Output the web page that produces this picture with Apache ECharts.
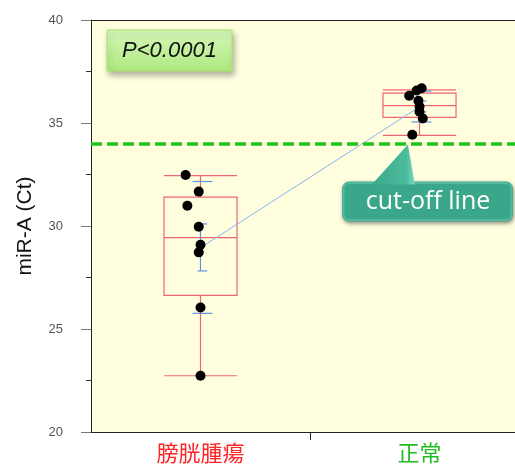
<!DOCTYPE html>
<html>
<head>
<meta charset="utf-8">
<script src="https://cdn.jsdelivr.net/npm/echarts@6/dist/echarts.min.js"></script>
<style>
  html, body { margin: 0; padding: 0; background: #ffffff; }
  #chart { width: 515px; height: 464px; }
</style>
</head>
<body>
<div id="chart"></div>
<script>
// Group names on the x axis
const categories = ['膀胱腫瘍', '正常'];

// Individual Ct values per group
const tumorCt  = [32.48, 31.67, 30.98, 29.96, 29.09, 28.72, 26.04, 22.73];
const normalCt = [36.69, 36.58, 36.32, 36.08, 35.80, 35.55, 35.22, 34.43];

// Horizontal spread of the dots inside each group (category units)
const tumorJitter  = [-0.068, -0.008, -0.060, -0.008, 0.000, -0.008, 0.000, 0.000];
const normalJitter = [0.010, -0.013, -0.047, -0.005, 0.000, 0.000, 0.015, -0.033];

// Box statistics per group: [lower whisker, Q1, median, Q3, upper whisker]
const boxStats = [
  [22.73, 26.63, 29.44, 31.40, 32.45],
  [34.40, 35.27, 35.84, 36.45, 36.61]
];

// Mean, SD and SE per group
const meanCt = [28.96, 35.80];
const sdCt   = [3.20, 0.75];
const seCt   = [1.14, 0.265];

// Diagnostic threshold
const cutoff = 34;

// Y axis range
const yMin = 20, yMax = 40, yStep = 5;

// Group slots are one unit wide; the plot runs past the right edge of the canvas,
// so the visible part of the x axis stops short of the second slot's end.
const xMin = -0.5, xMax = 1.436;

const chart = echarts.init(document.getElementById('chart'), null, { renderer: 'canvas' });

const RED = '#ef6474';
const BLUE = '#5b93e0';

const scatterData = [];
tumorCt.forEach((v, i) => scatterData.push([0 + tumorJitter[i], v]));
normalCt.forEach((v, i) => scatterData.push([1 + normalJitter[i], v]));

const boxData = boxStats.map((s, i) => [i].concat(s));
const errData = meanCt.map((m, i) => [i + 0.009, m, sdCt[i], seCt[i]]);
const meanLine = meanCt.map((m, i) => [i + 0.002, m]);

function renderBox(params, api) {
  const x = api.value(0);
  const lo = api.coord([x, api.value(1)]);
  const q1 = api.coord([x, api.value(2)]);
  const md = api.coord([x, api.value(3)]);
  const q3 = api.coord([x, api.value(4)]);
  const hi = api.coord([x, api.value(5)]);
  const half = api.size([0.1667, 0])[0];
  const cx = lo[0];
  const style = { stroke: RED, lineWidth: 1.2, fill: null };
  const ln = (x1, y1, x2, y2) => ({ type: 'line', shape: { x1, y1, x2, y2 }, style });
  return {
    type: 'group',
    children: [
      { type: 'rect', shape: { x: cx - half, y: q3[1], width: half * 2, height: q1[1] - q3[1] }, style },
      ln(cx - half, md[1], cx + half, md[1]),
      ln(cx, q3[1], cx, hi[1]),
      ln(cx, q1[1], cx, lo[1]),
      ln(cx - half, hi[1], cx + half, hi[1]),
      ln(cx - half, lo[1], cx + half, lo[1])
    ]
  };
}

function renderErr(params, api) {
  const x = api.value(0);
  const m = api.value(1), sd = api.value(2), se = api.value(3);
  const sdHi = api.coord([x, m + sd]), sdLo = api.coord([x, m - sd]);
  const seHi = api.coord([x, m + se]), seLo = api.coord([x, m - se]);
  const cx = sdHi[0];
  const wSd = api.size([0.045, 0])[0];
  const wSe = api.size([0.022, 0])[0];
  const style = { stroke: BLUE, lineWidth: 1.2 };
  const ln = (x1, y1, x2, y2) => ({ type: 'line', shape: { x1, y1, x2, y2 }, style });
  return {
    type: 'group',
    children: [
      ln(cx - 2, seHi[1], cx - 2, seLo[1]),
      ln(cx - wSe, seHi[1], cx + wSe, seHi[1]),
      ln(cx - wSe, seLo[1], cx + wSe, seLo[1]),
      ln(cx - wSd, sdHi[1], cx + wSd, sdHi[1]),
      ln(cx - wSd, sdLo[1], cx + wSd, sdLo[1])
    ]
  };
}

const option = {
  animation: false,
  backgroundColor: '#ffffff',
  grid: {
    left: 91, top: 20, right: 0, bottom: 31,
    show: true, backgroundColor: '#ffffe0', borderWidth: 0
  },
  xAxis: [
    {
      type: 'value', min: xMin, max: xMax,
      axisLine: { show: true, onZero: false, lineStyle: { color: '#222222', width: 1 } },
      splitLine: { show: false },
      axisTick: { show: true, customValues: [0.5], length: 8, lineStyle: { color: '#222222' } },
      axisLabel: {
        customValues: [0, 1], margin: 10,
        formatter: v => {
          const i = Math.round(v);
          return '{c' + i + '|' + categories[i] + '}';
        },
        rich: {
          c0: { color: '#ff2424', fontSize: 22, fontFamily: 'Noto Sans CJK JP' },
          c1: { color: '#22bb22', fontSize: 22, fontFamily: 'Noto Sans CJK JP' }
        }
      }
    },
    {
      // top frame line of the plot area
      type: 'value', position: 'top', min: xMin, max: xMax,
      axisLine: { show: true, onZero: false, lineStyle: { color: '#222222', width: 1 } },
      axisTick: { show: false }, axisLabel: { show: false }, splitLine: { show: false }
    }
  ],
  yAxis: {
    type: 'value', min: yMin, max: yMax, interval: yStep,
    name: 'miR-A (Ct)', nameLocation: 'middle', nameGap: 55,
    nameTextStyle: { fontSize: 21, color: '#111111', fontFamily: 'Liberation Sans' },
    axisLine: { show: true, onZero: false, lineStyle: { color: '#222222', width: 1 } },
    axisTick: { show: true, length: 10, lineStyle: { color: '#777777' } },
    minorTick: { show: true, splitNumber: 2, length: 5, lineStyle: { color: '#333333' } },
    splitLine: { show: false },
    axisLabel: { color: '#555555', fontSize: 13, margin: 28, fontFamily: 'Liberation Sans' }
  },
  series: [
    {
      type: 'custom', renderItem: renderBox, data: boxData, z: 2, silent: true,
      encode: { x: 0, y: [1, 2, 3, 4, 5] }
    },
    {
      type: 'custom', renderItem: renderErr, data: errData, z: 3, silent: true,
      encode: { x: 0, y: 1 }
    },
    {
      type: 'line', data: meanLine, z: 4, symbol: 'none', silent: true,
      lineStyle: { color: '#8ab2ee', width: 1 },
      markLine: {
        silent: true, symbol: 'none', label: { show: false },
        lineStyle: { color: '#1fc41f', width: 3.5, type: [11, 5] },
        data: [{ yAxis: cutoff }]
      }
    },
    {
      type: 'scatter', data: scatterData, z: 5, symbolSize: 10, silent: true,
      itemStyle: { color: '#000000', opacity: 1 }
    }
  ]
};

chart.setOption(option);

// Annotations: p-value badge and the callout pointing at the cut-off line
const tip = chart.convertToPixel({ xAxisIndex: 0, yAxisIndex: 0 }, [0.947, cutoff]);
const bodyTop = tip[1] + 38;
const TEAL = '#3aa68a';
chart.setOption({
  graphic: [
    {
      type: 'rect', z: 20,
      shape: { x: 107, y: 30, width: 125, height: 41 },
      style: {
        fill: new echarts.graphic.LinearGradient(0, 0, 0, 1, [
          { offset: 0, color: '#d6f7b8' },
          { offset: 1, color: '#ade87f' }
        ]),
        stroke: '#a6e46e', lineWidth: 1,
        shadowBlur: 6, shadowOffsetX: 2, shadowOffsetY: 4, shadowColor: 'rgba(0,0,0,0.3)'
      }
    },
    {
      type: 'text', z: 21, x: 169.5, y: 51,
      style: {
        text: 'P<0.0001', fill: '#111111', fontSize: 22, fontStyle: 'italic',
        fontFamily: 'Liberation Sans', align: 'center', verticalAlign: 'middle'
      }
    },
    {
      type: 'rect', z: 20,
      shape: { x: 342, y: bodyTop, width: 171, height: 40, r: 7 },
      style: {
        fill: TEAL,
        shadowBlur: 4, shadowOffsetX: 1, shadowOffsetY: 2, shadowColor: 'rgba(0,0,0,0.45)'
      }
    },
    {
      // bevel highlight around the callout body
      type: 'rect', z: 21,
      shape: { x: 343.5, y: bodyTop + 1.5, width: 168, height: 37, r: 6 },
      style: { fill: null, stroke: 'rgba(120,220,190,0.4)', lineWidth: 2 }
    },
    {
      type: 'polygon', z: 22,
      shape: { points: [[tip[0], tip[1] + 1], [tip[0] - 36, bodyTop + 3], [tip[0] + 7, bodyTop + 3]] },
      style: {
        fill: new echarts.graphic.LinearGradient(0, 0, 1, 0, [
          { offset: 0, color: TEAL },
          { offset: 0.8, color: '#4dbb9d' },
          { offset: 1, color: '#7ddcc0' }
        ])
      }
    },
    {
      type: 'text', z: 23, x: 428, y: bodyTop + 20,
      style: {
        text: 'cut-off line', fill: '#ffffff', fontSize: 25,
        fontFamily: 'Open Sans', align: 'center', verticalAlign: 'middle'
      }
    }
  ]
});
</script>
</body>
</html>
